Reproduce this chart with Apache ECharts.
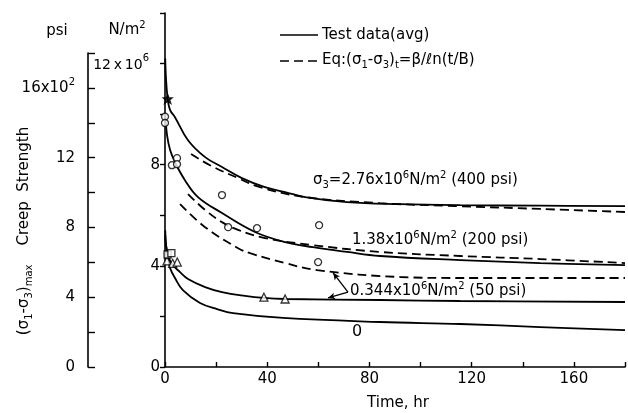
<!DOCTYPE html>
<html>
<head>
<meta charset="utf-8">
<script src="https://cdn.jsdelivr.net/npm/echarts@6/dist/echarts.min.js"></script>
<style>
html,body{margin:0;padding:0;background:#fff;}
#c{width:628px;height:413px;}
</style>
</head>
<body>
<div id="c"></div>
<script>
// ---- data (time in hr, strength in 10^6 N/m^2) ----
const xTicks = [0, 40, 80, 120, 160];
const yTicksMPa = [0, 4, 8, 12];
const yTicksPsi = [0, 400, 800, 1200, 1600];

const t276Test = [0.1, 0.4, 1.05, 2, 3.9, 9, 15.7, 22.3, 30.1, 39.1, 47, 54.8, 71.2, 92, 115.5, 146.8, 180];
const v276Test = [12.2, 11.4, 10.6, 10.16, 9.88, 8.97, 8.30, 7.91, 7.47, 7.11, 6.92, 6.72, 6.52, 6.44, 6.40, 6.38, 6.36];
const t276Eq = [10.2, 17.6, 28.6, 37.2, 54.8, 84, 115.5, 146.8, 180];
const v276Eq = [8.42, 7.98, 7.47, 7.11, 6.72, 6.48, 6.36, 6.25, 6.13];

const t138Test = [0.1, 0.8, 2, 3.9, 7.8, 12.9, 22.3, 35.2, 47, 57.9, 71.2, 84.1, 115.5, 146.8, 180];
const v138Test = [10.0, 9.17, 8.58, 8.10, 7.39, 6.72, 6.09, 5.34, 4.94, 4.74, 4.55, 4.39, 4.23, 4.11, 4.03];
const t138Eq = [9, 15.7, 22.3, 28.6, 39.1, 57.9, 84.1, 115.5, 146.8, 180];
const v138Eq = [6.84, 6.21, 5.73, 5.42, 5.10, 4.82, 4.55, 4.39, 4.27, 4.11];

const t034Test = [0.1, 0.4, 1.2, 2.7, 5.9, 9, 15.7, 22.3, 31.3, 38.7, 47, 84.1, 115.5, 180];
const v034Test = [5.41, 4.82, 4.43, 4.07, 3.75, 3.48, 3.16, 2.96, 2.81, 2.73, 2.69, 2.65, 2.61, 2.57];
const t034Eq = [5.9, 15.7, 28.6, 33.3, 47, 59.5, 92, 115.5, 180];
const v034Eq = [6.44, 5.53, 4.70, 4.5, 4.11, 3.83, 3.56, 3.52, 3.52];

const t0Test = [0.1, 0.4, 1.2, 2, 3.9, 7, 13.7, 20.4, 26.6, 46.2, 84.1, 115.5, 146.8, 180];
const v0Test = [5.22, 4.82, 4.31, 3.91, 3.52, 3.04, 2.53, 2.29, 2.13, 1.94, 1.78, 1.70, 1.58, 1.46];

const circleT = [0, 0, 2.7, 4.7, 4.7, 22.3, 24.7, 36, 60.3, 59.9];
const circleV = [9.9, 9.65, 7.98, 8.26, 8.02, 6.8, 5.53, 5.49, 5.61, 4.15];
const triT = [0.8, 3, 4.8, 38.7, 47];
const triV = [4.2, 4.1, 4.15, 2.76, 2.69];
const sqT = [1, 2.5];
const sqV = [4.45, 4.5];
const starT = [1.05];
const starV = [10.6];

// leader arrows for the 0.344 label: apex -> dashed, apex -> solid
const leaderApex = [71.6, 2.96];
const leaderTips = [[65.8, 3.72], [63.8, 2.73]];

const zip = (a, b) => a.map((x, i) => [x, b[i]]);
const INK = '#000';
const FONT = 'DejaVu Sans';

function curve(name, t, v, dashed) {
  return {
    type: 'line', name, xAxisIndex: 0, yAxisIndex: 0,
    data: zip(t, v), showSymbol: false, symbol: 'none',
    smooth: 0.4, silent: true,
    lineStyle: { color: INK, width: 1.8, type: dashed ? [9, 5] : 'solid' },
    z: 3
  };
}
function pts(name, t, v, symbol, size, filled) {
  return {
    type: 'scatter', name, xAxisIndex: 0, yAxisIndex: 0,
    data: zip(t, v), symbol, symbolSize: size, clip: false,
    itemStyle: { color: filled ? INK : '#fff', borderColor: INK, borderWidth: 1.3 },
    z: 5
  };
}

const baseRich = {
  n: { fontFamily: FONT, fontSize: 15, color: INK, lineHeight: 20 },
  sub: { fontFamily: FONT, fontSize: 10, color: INK, lineHeight: 10, verticalAlign: 'bottom' },
  sup: { fontFamily: FONT, fontSize: 10, color: INK, lineHeight: 10, verticalAlign: 'top' }
};

function rtext(x, y, text, opts) {
  return Object.assign({
    type: 'text', x, y, silent: true,
    style: Object.assign({
      text, rich: baseRich, fontFamily: FONT, fontSize: 15, fill: INK,
      textAlign: 'left', textVerticalAlign: 'middle'
    }, (opts && opts.style) || {})
  }, (opts && opts.el) || {});
}

const chart = echarts.init(document.getElementById('c'), null, { renderer: 'canvas' });

const option = {
  backgroundColor: '#fff',
  animation: false,
  grid: [
    { left: 165, right: 3, top: 13, bottom: 46, containLabel: false },
    { left: 88, width: 1, top: 53, bottom: 46, containLabel: false }
  ],
  xAxis: [
    {
      type: 'value', gridIndex: 0, min: 0, max: 180, interval: 20,
      axisLine: { show: true, lineStyle: { color: INK, width: 1.6 } },
      axisTick: { show: true, inside: true, length: 5, lineStyle: { color: INK, width: 1.4 } },
      splitLine: { show: false },
      axisLabel: {
        margin: 5, fontFamily: FONT, fontSize: 15, color: INK,
        formatter: v => xTicks.indexOf(v) >= 0 ? String(v) : ''
      }
    },
    { type: 'value', gridIndex: 1, min: 0, max: 1, show: false }
  ],
  yAxis: [
    {
      type: 'value', gridIndex: 0, min: 0, max: 14, interval: 2,
      axisLine: { show: true, lineStyle: { color: INK, width: 1.6 } },
      axisTick: { show: true, inside: false, length: 5, lineStyle: { color: INK, width: 1.4 } },
      splitLine: { show: false },
      axisLabel: {
        margin: 5, fontFamily: FONT, fontSize: 15, color: INK,
        formatter: v => v === 12 ? '{n|12\u2009x\u200910}{sup|6}' : (yTicksMPa.indexOf(v) >= 0 ? String(v) : ''),
        rich: {
          n: { fontFamily: FONT, fontSize: 14, color: INK, lineHeight: 20, padding: [4, 0, 0, 0] },
          sup: { fontFamily: FONT, fontSize: 10, color: INK, lineHeight: 10, verticalAlign: 'top', padding: [0, 11, 0, 0] }
        }
      }
    },
    {
      type: 'value', gridIndex: 1, min: 0, max: 1800, interval: 200, position: 'left',
      axisLine: { show: true, lineStyle: { color: INK, width: 1.6 } },
      axisTick: { show: true, inside: true, length: 7, lineStyle: { color: INK, width: 1.4 } },
      splitLine: { show: false },
      axisLabel: {
        margin: 13, fontFamily: FONT, fontSize: 15, color: INK,
        formatter: v => v === 1600 ? '{n|16x10}{sup|2}' : (yTicksPsi.indexOf(v) >= 0 ? String(v / 100) : ''),
        rich: {
          n: { fontFamily: FONT, fontSize: 15, color: INK, lineHeight: 20 },
          sup: { fontFamily: FONT, fontSize: 10, color: INK, lineHeight: 10, verticalAlign: 'top' }
        }
      }
    }
  ],
  series: [
    curve('Test 2.76', t276Test, v276Test, false),
    curve('Eq 2.76', t276Eq, v276Eq, true),
    curve('Test 1.38', t138Test, v138Test, false),
    curve('Eq 1.38', t138Eq, v138Eq, true),
    curve('Test 0.344', t034Test, v034Test, false),
    curve('Eq 0.344', t034Eq, v034Eq, true),
    curve('Test 0', t0Test, v0Test, false),
    pts('circles', circleT, circleV, 'circle', 7, false),
    pts('triangles', triT, triV, 'triangle', 8, false),
    pts('squares', sqT, sqV, 'rect', 7, false),
    pts('star', starT, starV, 'path://M0,-10 L3,-3 L10,-3 L4.5,1.5 L7,9 L0,4.5 L-7,9 L-4.5,1.5 L-10,-3 L-3,-3 Z', 9, true),
    {
      type: 'line', name: 'leader', xAxisIndex: 0, yAxisIndex: 0, data: [],
      markLine: {
        silent: true, animation: false,
        symbol: ['none', 'arrow'], symbolSize: [5, 7],
        label: { show: false },
        lineStyle: { color: INK, width: 1.3, type: 'solid' },
        data: leaderTips.map(tip => [{ coord: leaderApex }, { coord: tip }])
      }
    },
    { type: 'line', name: 'psi', xAxisIndex: 1, yAxisIndex: 1, data: [] }
  ],
  graphic: [
    // units
    rtext(57, 31, 'psi', { style: { textAlign: 'center' } }),
    rtext(127, 30, '{n|N/m}{sup|2}', { style: { textAlign: 'center' } }),
    // y-axis title
    rtext(24, 231, '{n|(σ}{sub|1}{n|-σ}{sub|3}{n|)}{sub|max}{n|    Creep  Strength}', {
      style: { textAlign: 'center' }, el: { rotation: Math.PI / 2 }
    }),
    // legend
    { type: 'line', silent: true, shape: { x1: 280, y1: 35, x2: 318, y2: 35 }, style: { stroke: INK, lineWidth: 1.6 } },
    rtext(322, 35, 'Test data(avg)'),
    { type: 'line', silent: true, shape: { x1: 280, y1: 61, x2: 318, y2: 61 }, style: { stroke: INK, lineWidth: 1.6, lineDash: [9, 5] } },
    rtext(322, 60, '{n|Eq:(σ}{sub|1}{n|-σ}{sub|3}{n|)}{sub|t}{n|=β/ℓn(t/B)}'),
    // curve labels
    rtext(313, 180, '{n|σ}{sub|3}{n|=2.76x10}{sup|6}{n|N/m}{sup|2}{n| (400 psi)}'),
    rtext(352, 240, '{n|1.38x10}{sup|6}{n|N/m}{sup|2}{n| (200 psi)}'),
    rtext(350, 291, '{n|0.344x10}{sup|6}{n|N/m}{sup|2}{n| (50 psi)}'),
    rtext(357, 332, '0', { style: { textAlign: 'center', fontSize: 16 } }),
    // x-axis title
    rtext(398, 403, 'Time, hr', { style: { textAlign: 'center' } })
  ]
};
chart.setOption(option);
</script>
</body>
</html>
